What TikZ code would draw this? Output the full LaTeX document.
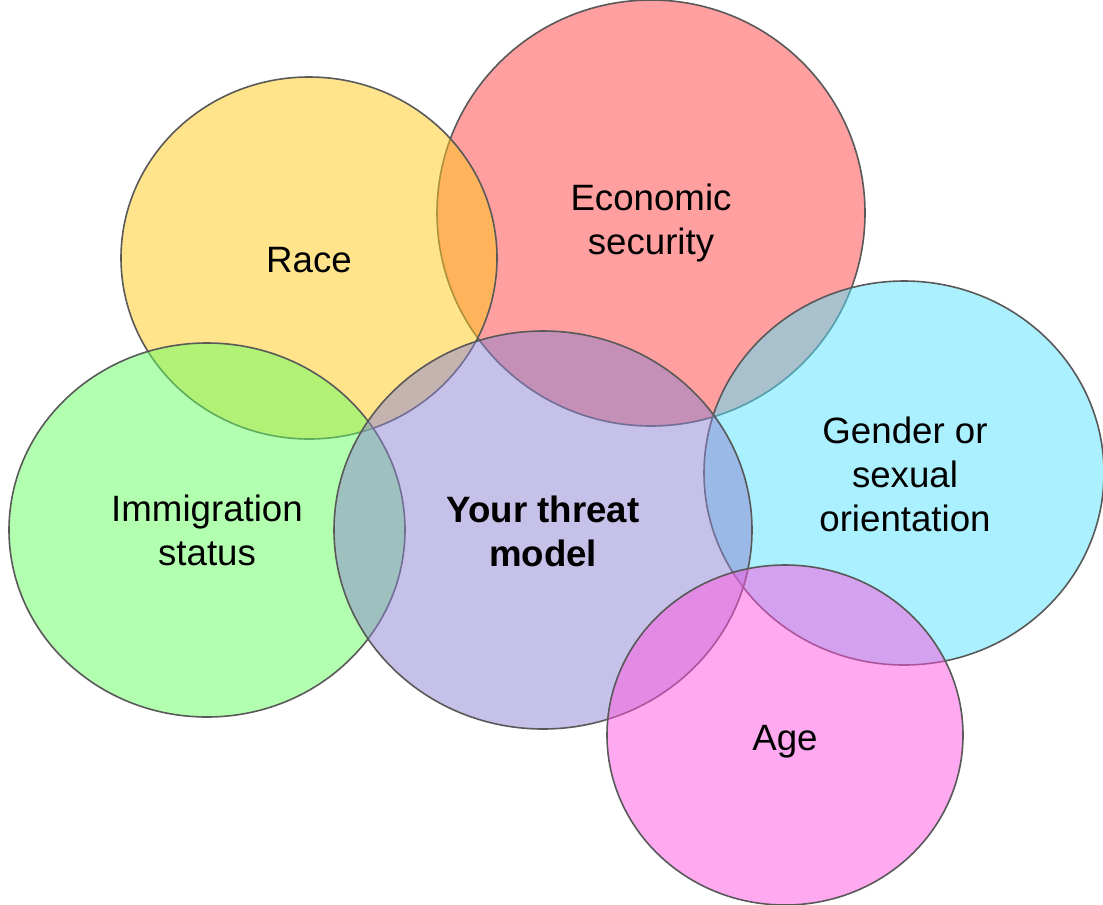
\documentclass[tikz,border=0pt]{standalone}
\usepackage{fontspec}
\setmainfont{Liberation Sans}
\usetikzlibrary{shapes.geometric}

\definecolor{econred}{RGB}{255,63,63}
\definecolor{raceyellow}{RGB}{255,201,25}
\definecolor{immiggreen}{RGB}{101,255,97}
\definecolor{gendercyan}{RGB}{85,225,253}
\definecolor{threatpurple}{RGB}{139,131,209}
\definecolor{agepink}{RGB}{255,83,225}

\tikzset{
  topic/.style={ellipse,draw=black!65,line width=1.2pt,fill opacity=.5,inner sep=0pt},
  tag/.style={align=center,inner sep=0pt,font=\fontsize{27.5}{33}\selectfont},
}

\begin{document}
\begin{tikzpicture}[x=.75pt,y=-.75pt]
      \useasboundingbox (0,0) rectangle (1103,904);
      % circles, back to front
      \node[topic,fill=econred,minimum width=321pt,minimum height=319.5pt] (econ) at (651,213) {};
      \node[topic,fill=raceyellow,minimum width=282pt,minimum height=271.5pt] (race) at (309,258) {};
      \node[topic,fill=immiggreen,minimum width=297pt,minimum height=280.5pt] (immig) at (207,530) {};
      \node[topic,fill=gendercyan,minimum width=300pt,minimum height=288pt] (gender) at (904,473) {};
      \node[topic,fill=threatpurple,minimum width=313.5pt,minimum height=298.5pt] (threat) at (543,530) {};
      \node[topic,fill=agepink,minimum width=267pt,minimum height=255pt] (age) at (785,735) {};

      % labels
      \node[tag] (econ-text) at (651,223) {Economic\\security};
      \node[tag] (race-text) at (309,260) {Race};
      \node[tag] (immig-text) at (207,530) {Immigration\\status};
      \node[tag] (gender-text) at (905,474) {Gender or\\sexual\\orientation};
      \node[tag,font=\fontsize{27.5}{33}\selectfont\bfseries] (threat-text) at (543,531) {Your threat\\model};
      \node[tag] (age-text) at (785,742) {Age};
\end{tikzpicture}
\end{document}
